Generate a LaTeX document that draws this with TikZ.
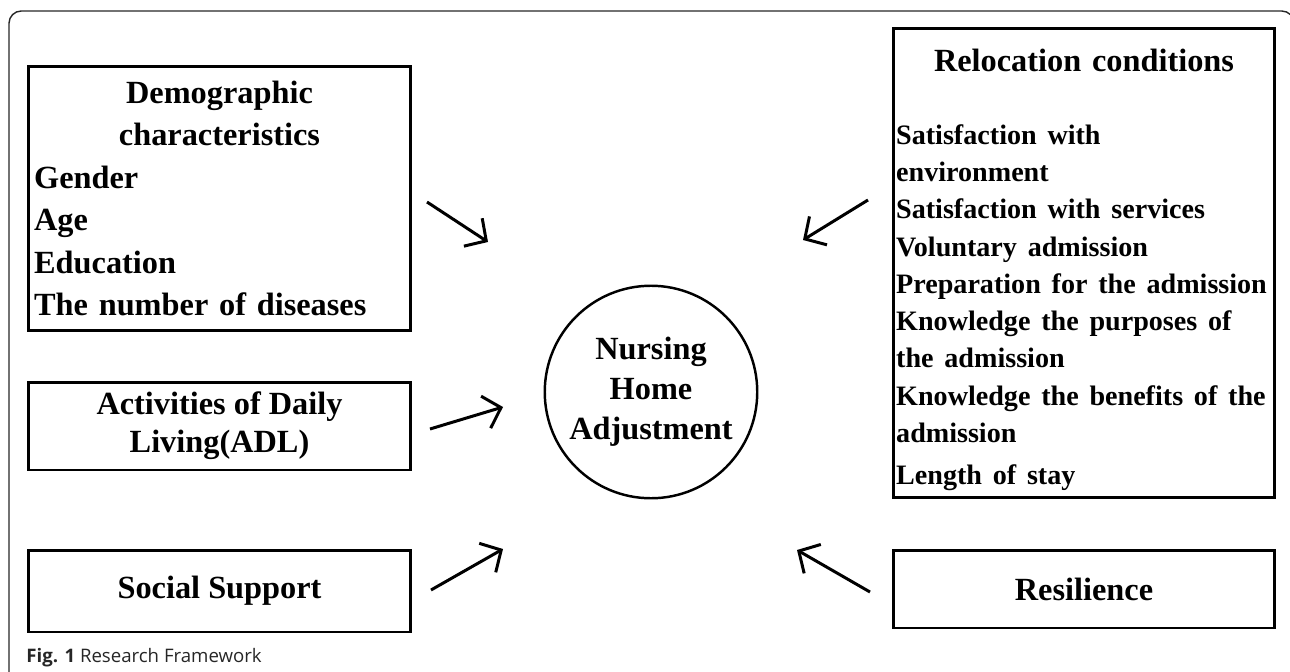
\documentclass[tikz,border=0pt]{standalone}
\usepackage{fontspec}
\setmainfont{Liberation Serif}
\newfontfamily\capfont{Open Sans}
\usetikzlibrary{arrows.meta}
\hyphenpenalty=10000
\exhyphenpenalty=10000

\begin{document}
\begin{tikzpicture}[x=0.02cm,y=-0.02cm,
  factor/.style={draw, line width=1.7pt, rectangle, inner sep=3pt,
    font=\fontsize{18.4}{24.2}\selectfont\bfseries},
  link/.style={line width=1.7pt, -{Straight Barb[length=9pt,width=19pt]}}]
\useasboundingbox (0,0) rectangle (1290,672);
\draw[line width=0.8pt, black!85, rounded corners=7pt] (9,690) -- (9,11) -- (1294,11) -- (1294,80);

\node[factor, text width=211pt, align=left, minimum height=5.3cm] (demo) at (219.5,198.5)
  {\makebox[\hsize]{Demographic}\\ \makebox[\hsize]{characteristics}\\ Gender\\ Age\\ Education\\ The number of diseases};
\node[factor, minimum width=7.66cm, minimum height=1.76cm, align=center,
  font=\fontsize{18.4}{21.5}\selectfont\bfseries] (adl) at (219.5,426)
  {Activities of Daily\\ Living(ADL)};
\node[factor, minimum width=7.66cm, minimum height=1.64cm] (social) at (219.5,591) {Social Support};
\node[factor, inner xsep=1.5pt, text width=213.8pt, align=left, minimum height=9.4cm] (reloc) at (1084,263)
  {\makebox[\hsize]{\rule{0pt}{21pt}Relocation conditions}\\[20pt]
   \fontsize{16}{21.2}\selectfont Satisfaction with\\ environment\\ Satisfaction with services\\
   Voluntary admission\\ Preparation for the admission\\ Knowledge the purposes of\\
   the admission\\ Knowledge the benefits of the\\ admission\\ Length of stay};
\node[factor, minimum width=7.64cm, minimum height=1.56cm] (resil) at (1084,589) {Resilience};

\node[draw, circle, line width=1.4pt, minimum size=4.24cm, align=center,
  font=\fontsize{18.4}{22.7}\selectfont\bfseries] (adj) at (651,392) {Nursing\\ Home\\ Adjustment};

\coordinate (demo-tail) at (427,202);   \coordinate (demo-head) at (488,242);
\coordinate (adl-tail) at (430,429);    \coordinate (adl-head) at (503,407);
\coordinate (social-tail) at (431,590); \coordinate (social-head) at (503,549);
\coordinate (reloc-tail) at (868,200);  \coordinate (reloc-head) at (803,240);
\coordinate (resil-tail) at (870,592);  \coordinate (resil-head) at (797,550);

\draw[link] (demo-tail) -- (demo-head);
\draw[link] (adl-tail) -- (adl-head);
\draw[link] (social-tail) -- (social-head);
\draw[link] (reloc-tail) -- (reloc-head);
\draw[link] (resil-tail) -- (resil-head);

\node[anchor=base west, inner sep=0, text=black!85, font=\capfont\fontsize{10.6}{12}\selectfont] (caption)
  at (26,662) {\textbf{Fig. 1} Research Framework};
\end{tikzpicture}
\end{document}
